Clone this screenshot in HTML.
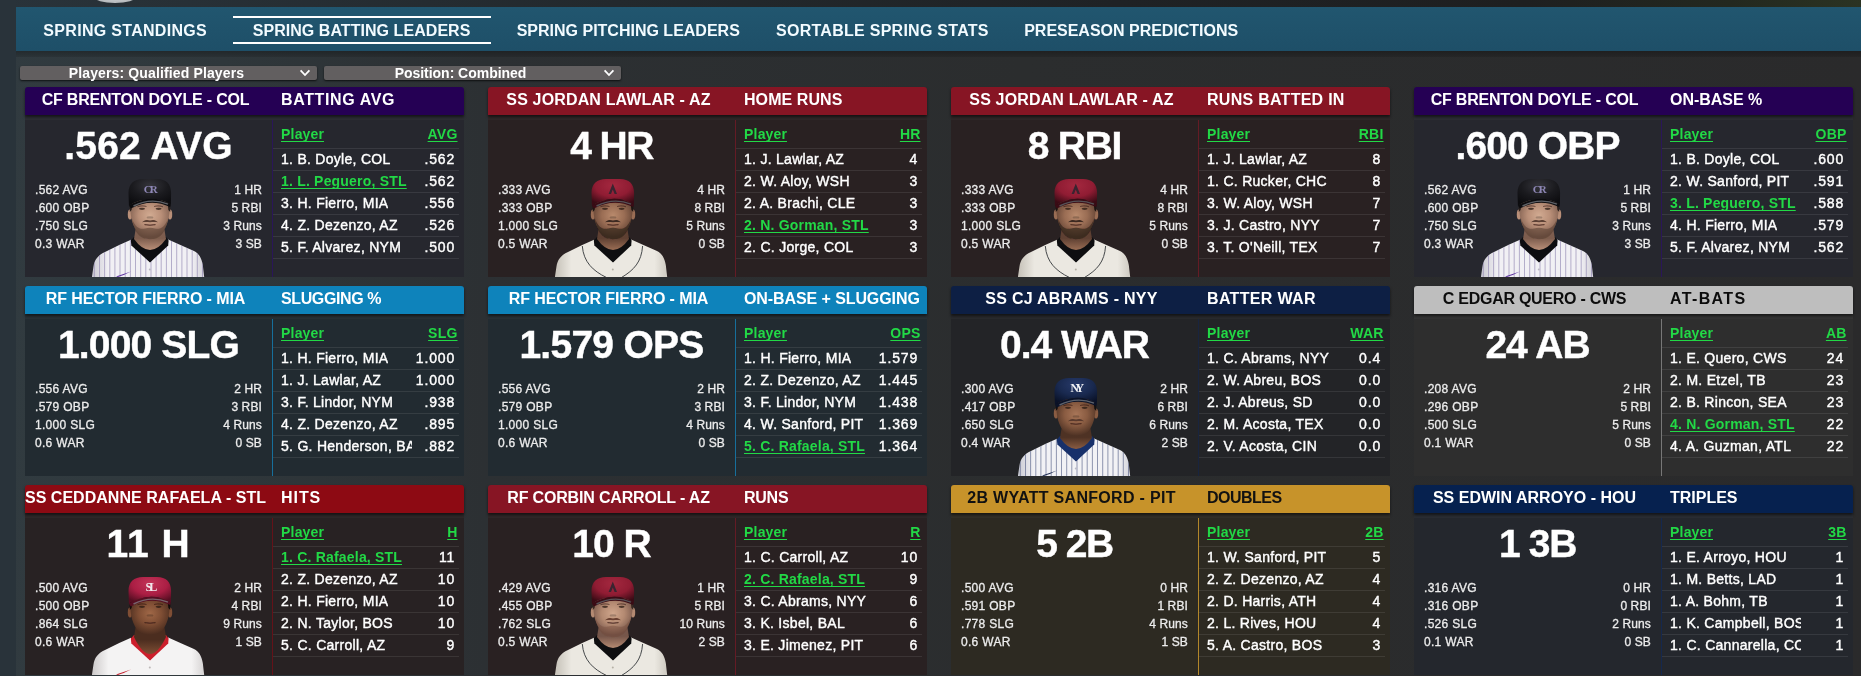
<!DOCTYPE html>
<html><head><meta charset="utf-8"><title>Spring Batting Leaders</title>
<style>
*{margin:0;padding:0;box-sizing:border-box}
html,body{width:1861px;height:676px;overflow:hidden}
body{position:relative;font-family:"Liberation Sans",sans-serif;color:#fff;
 background:linear-gradient(90deg,#313b40 0,#2f373b 12%,#2c3033 26%,#2b2d2e 55%,#2a2a2b 100%)}
.navsh{position:absolute;left:16px;top:51px;width:1845px;height:6px;background:linear-gradient(180deg,rgba(0,0,0,.28),rgba(0,0,0,.12))}
.topstrip{position:absolute;left:0;top:0;width:1861px;height:7px;background:linear-gradient(90deg,#29333a 0,#23292d 33%,#1f2225 60%,#1e1f20 82%,#23281f 93%,#2b3322 100%)}
.leftstrip{position:absolute;left:0;top:0;width:16px;height:676px;background:#29333a}
.knob{position:absolute;left:94px;top:-10px;width:42px;height:12.5px;border-radius:50%;background:radial-gradient(ellipse at 50% 40%,#d4d8da,#a9adb0)}
.nav{will-change:transform;position:absolute;left:16px;top:7px;width:1845px;height:44px;background:linear-gradient(180deg,#21566f,#1e4f68)}
.nav span{position:absolute;top:15px;font-size:16px;font-weight:bold;line-height:18px;white-space:nowrap;color:#f2fbff}
.nav i{position:absolute;left:217px;width:258px;height:2px;background:#fff}
.dd{will-change:transform;position:absolute;top:66px;height:14px;background:#625f60;border-radius:2px;box-shadow:0 1px 2px rgba(0,0,0,.7);font-size:14px;font-weight:bold;line-height:14px;text-align:center;white-space:nowrap}
.dd svg{position:absolute;right:6px;top:3px}
.card{position:absolute;width:439px;height:200px;will-change:transform}
.hd{position:absolute;left:0;top:0;width:439px;height:28px;border-radius:3px 3px 0 0;box-shadow:0 2px 3px rgba(0,0,0,.55);font-size:16px;font-weight:bold;line-height:28px;white-space:nowrap;overflow:hidden}
.hd .nm{position:absolute;left:0;top:-1px;width:241px;text-align:center}
.hd .nm b{display:inline-block;margin:0 -40px}
.hd .tt{position:absolute;left:256px;top:-1px}
.gp{position:absolute;left:0;top:26px;width:439px;height:7px}
.gp:after{content:'';position:absolute;left:0;top:0;width:100%;height:100%;background:rgba(255,255,255,.03)}
.bd{position:absolute;left:0;top:33px;width:439px;height:157px;overflow:hidden}
.dv{position:absolute;left:247px;top:0;width:1px;height:100%}
.big{position:absolute;left:0;top:1px;-webkit-text-stroke:.4px;width:247px;text-align:center;font-size:39px;font-weight:bold;line-height:50px;white-space:nowrap}
.sl,.sr{position:absolute;top:61px;font-size:12px;line-height:18px;white-space:nowrap;color:#ececec;-webkit-text-stroke:.3px #ececec}
.sl{left:10px;text-align:left;letter-spacing:.3px}
.sr{right:202px;text-align:right;letter-spacing:.12px}
.tb{position:absolute;left:248px;top:0;width:186px}
.tr{position:relative;height:22px;border-bottom:1px solid rgba(255,255,255,.085);font-size:14px;letter-spacing:.28px;line-height:21px;white-space:nowrap;-webkit-text-stroke:.4px}
.tr.h{height:29px;line-height:28.6px;font-weight:bold;font-size:14px;letter-spacing:.2px;-webkit-text-stroke:0}
.tr span{position:absolute;left:8px;top:0;max-width:131px;overflow:hidden}
.tr em{position:absolute;right:3.9px;top:0;font-style:normal;letter-spacing:.85px}
.tr.h em{right:1.5px;letter-spacing:.2px}
.g{letter-spacing:.2px;color:#22d946;text-decoration:underline;text-decoration-skip-ink:none;text-decoration-thickness:1px;text-underline-offset:2px;font-weight:bold;-webkit-text-stroke:0}
.ph{position:absolute;left:54px;bottom:0}
</style></head><body>
<div class="navsh"></div><div class="topstrip"></div><div class="leftstrip"></div><div class="knob"></div>
<div class="nav">
<span style="left:27.3px;letter-spacing:0.31px">SPRING STANDINGS</span>
<i style="top:9px"></i><span style="left:236.7px;letter-spacing:0.052px">SPRING BATTING LEADERS</span><i style="top:35px"></i>
<span style="left:500.7px;letter-spacing:0.0px">SPRING PITCHING LEADERS</span>
<span style="left:760.0px;letter-spacing:0.27px">SORTABLE SPRING STATS</span>
<span style="left:1008.2px;letter-spacing:-0.012px">PRESEASON PREDICTIONS</span>
</div>
<div class="dd" style="left:20px;width:297px"><span style="position:relative;left:-12px;letter-spacing:0.132px">Players: Qualified Players</span><svg width="12" height="8" viewBox="0 0 12 8"><path d="M1.6 1.3 L6 6 L10.4 1.3" fill="none" stroke="#fff" stroke-width="1.8"/></svg></div>
<div class="dd" style="left:324px;width:297px"><span style="position:relative;left:-12px;letter-spacing:-0.032px">Position: Combined</span><svg width="12" height="8" viewBox="0 0 12 8"><path d="M1.6 1.3 L6 6 L10.4 1.3" fill="none" stroke="#fff" stroke-width="1.8"/></svg></div>
<div class="card" style="left:25px;top:87px">
<div class="gp" style="background:#26272e"></div><div class="hd" style="background:#250054;color:#fff"><div class="nm"><b style="letter-spacing:-0.202px">CF BRENTON DOYLE - COL</b></div><div class="tt" style="letter-spacing:0.625px">BATTING AVG</div></div>
<div class="bd" style="background:#26272e"><div class="dv" style="background:#2a1658"></div>
<div class="big" style="letter-spacing:0.186px">.562 AVG</div>
<div class="sl">.562 AVG<br>.600 OBP<br>.750 SLG<br>0.3 WAR</div><div class="sr">1 HR<br>5 RBI<br>3 Runs<br>3 SB</div>
<svg class="ph" style="left:60px;top:52px;position:absolute" width="130" height="105" viewBox="0 0 130 105"><defs><radialGradient id="fa" cx="50%" cy="42%" r="58%"><stop offset="0" stop-color="#d2ab92"/><stop offset=".5" stop-color="#b98f78"/><stop offset="1" stop-color="#7d5d4e"/></radialGradient><filter id="ba" x="-10%" y="-10%" width="120%" height="120%"><feGaussianBlur stdDeviation=".55"/></filter><radialGradient id="ca" cx="50%" cy="25%" r="75%"><stop offset="0" stop-color="#34343a"/><stop offset=".55" stop-color="#1a1a1e"/><stop offset="1" stop-color="#0c0c0f"/></radialGradient><linearGradient id="ja" x1="0" x2="1"><stop offset="0" stop-color="#b9b7c2"/><stop offset=".18" stop-color="#f1f0f4"/><stop offset=".82" stop-color="#f1f0f4"/><stop offset="1" stop-color="#b9b7c2"/></linearGradient><clipPath id="ka"><path d="M6.9 105 L8.4 95 C9.4 88 12.5 83.400 20 80 L34.2 72.9 L46 67.8 L65 90 L83.2 67.6 L96 73.300 L109 79 C114 81.6 116.6 86 117.8 93 L119.2 105 Z"/></clipPath></defs><g clip-path="url(#ka)"><rect x="0" y="60" width="130" height="50" fill="url(#ja)"/><path d="M9.3 60V106M14.5 60V106M19.6 60V106M24.8 60V106M29.9 60V106M35.0 60V106M40.2 60V106M45.4 60V106M50.5 60V106M55.7 60V106M60.8 60V106M66.0 60V106M71.1 60V106M76.2 60V106M81.4 60V106M86.5 60V106M91.7 60V106M96.9 60V106M102.0 60V106M107.2 60V106M112.3 60V106M117.5 60V106" stroke="#8a80ac" stroke-width=".6" fill="none"/><ellipse cx="65" cy="106" rx="3" ry="0"/></g><circle cx="64.8" cy="97.5" r="1" fill="#b9b7c2"/><path d="M31 104.6 C36 103 41 101.5 46 99.6 C41 102.3 36 104.2 33 105 Z" fill="#5b2fa0"/><path d="M45.8 68.6 L49 65 L81 65 L83.6 68.6 L83.2 73.5 L65 90.6 L46.4 73.5 Z" fill="#0d0d10"/><linearGradient id="na" x1="0" y1="0" x2="0" y2="1"><stop offset="0" stop-color="#7d5d4e"/><stop offset=".55" stop-color="#7d5d4e"/><stop offset="1" stop-color="#b98f78"/></linearGradient><path d="M51.5 52 L78.5 52 L81 67 Q65 89 49 67 Z" fill="url(#na)"/><ellipse cx="45" cy="42.6" rx="2.2" ry="5" fill="#b98f78"/><ellipse cx="85" cy="42.6" rx="2.2" ry="5" fill="#b98f78"/><path d="M45.8 28 L84.2 28 C85.4 41 84 51 78 59.5 C73 66.600 57 66.600 52 59.5 C46 51 44.6 41 45.8 28 Z" fill="url(#fa)"/><g filter="url(#ba)"><path d="M47 47 C49 58 53 64 58 66 C62 67.6 68 67.6 72 66 C77 64 81 58 83 47 C80 55 75 58 70 56.500 C67 55.5 63 55.5 60 56.5 C55 58 50 55 47 47 Z" fill="rgba(80,55,45,.5)"/><path d="M57 50.2 C60 47.4 63 47.6 65 48.6 C67 47.6 70 47.400 73 50.2 C70 49.600 67 50 65 50.2 C63 50 60 49.6 57 50.2 Z" fill="#5c4034"/><g fill="#2a1a14" opacity=".75"><ellipse cx="57" cy="36.8" rx="3" ry="1.1"/><ellipse cx="73.6" cy="36.8" rx="3" ry="1.1"/></g><g fill="#1a100c" opacity=".45"><path d="M52.5 34.2 Q57 32.4 61.5 34 L61.5 35 Q57 33.8 52.5 35.2 Z"/><path d="M69 34 Q73.5 32.400 78 34.2 L78 35.2 Q73.5 33.8 69 35 Z"/></g><ellipse cx="65" cy="45.4" rx="3.4" ry="1.2" fill="#000" opacity=".2"/><path d="M59.5 52.600 Q65 54.2 70.500 52.600 Q65 53.4 59.5 52.6 Z" stroke="#3a1c18" stroke-width=".9" fill="none" opacity=".6"/></g><path d="M44.6 30 L47.5 30 L46.6 38 L44.8 40 Z M85.4 30 L82.5 30 L83.4 38 L85.2 40 Z" fill="#2a201c"/><path d="M43.9 33.6 L43.5 21 C43.5 11.5 49 7 58 6.9 L72 6.9 C81 7 86.1 11.5 86.100 21 L85.9 32.6 Q66 20.5 43.9 33.600 Z" fill="url(#ca)"/><path d="M43.9 33.6 Q66 20.5 85.9 32.6 L85.2 35 Q66 25.600 45.8 36.4 Z" fill="#0c0c0f"/><path d="M48.5 34 Q66 25.2 83 32.2" stroke="#6d7075" stroke-width="1.4" fill="none" opacity=".85"/><text x="64.8" y="20.5" text-anchor="middle" font-family="Liberation Serif,serif" font-weight="bold" font-size="11" fill="#8d86b4" letter-spacing="-2">CR</text></svg>
<div class="tb"><div class="tr h"><span class="g">Player</span><em class="g">AVG</em></div><div class="tr"><span>1. B. Doyle, COL</span><em>.562</em></div><div class="tr"><span class="g">1. L. Peguero, STL</span><em>.562</em></div><div class="tr"><span>3. H. Fierro, MIA</span><em>.556</em></div><div class="tr"><span>4. Z. Dezenzo, AZ</span><em>.526</em></div><div class="tr"><span>5. F. Alvarez, NYM</span><em>.500</em></div></div>
</div></div>
<div class="card" style="left:488px;top:87px">
<div class="gp" style="background:#292122"></div><div class="hd" style="background:#871524;color:#fff"><div class="nm"><b style="letter-spacing:0.147px">SS JORDAN LAWLAR - AZ</b></div><div class="tt" style="letter-spacing:0.069px">HOME RUNS</div></div>
<div class="bd" style="background:#292122"><div class="dv" style="background:#641b25"></div>
<div class="big" style="letter-spacing:-1.567px">4 HR</div>
<div class="sl">.333 AVG<br>.333 OBP<br>1.000 SLG<br>0.5 WAR</div><div class="sr">4 HR<br>8 RBI<br>5 Runs<br>0 SB</div>
<svg class="ph" style="left:60px;top:52px;position:absolute" width="130" height="105" viewBox="0 0 130 105"><defs><radialGradient id="fb" cx="50%" cy="42%" r="58%"><stop offset="0" stop-color="#b98a6c"/><stop offset=".5" stop-color="#9a6d54"/><stop offset="1" stop-color="#5e4032"/></radialGradient><filter id="bb" x="-10%" y="-10%" width="120%" height="120%"><feGaussianBlur stdDeviation=".55"/></filter><radialGradient id="cb" cx="50%" cy="25%" r="75%"><stop offset="0" stop-color="#a4283f"/><stop offset=".55" stop-color="#901c33"/><stop offset="1" stop-color="#3a0b15"/></radialGradient><linearGradient id="jb" x1="0" x2="1"><stop offset="0" stop-color="#b5b0a6"/><stop offset=".18" stop-color="#ebe8e1"/><stop offset=".82" stop-color="#ebe8e1"/><stop offset="1" stop-color="#b5b0a6"/></linearGradient><clipPath id="kb"><path d="M6.9 105 L8.4 95 C9.4 88 12.5 83.400 20 80 L34.2 72.9 L46 67.8 L65 90 L83.2 67.6 L96 73.300 L109 79 C114 81.6 116.6 86 117.8 93 L119.2 105 Z"/></clipPath></defs><g clip-path="url(#kb)"><rect x="0" y="60" width="130" height="50" fill="url(#jb)"/><path d="M34.3 74 C35.5 90 45 99 58.5 105.5 M94.6 74 C93.5 90 86 98 73.5 105.5" stroke="#45484a" stroke-width="1" fill="none"/><ellipse cx="65" cy="106" rx="3" ry="0"/></g><circle cx="64.8" cy="97.5" r="1" fill="#b5b0a6"/><path d="M45.8 68.6 L49 65 L81 65 L83.6 68.6 L83.2 73.5 L65 90.6 L46.4 73.5 Z" fill="#0e0e10"/><linearGradient id="nb" x1="0" y1="0" x2="0" y2="1"><stop offset="0" stop-color="#5e4032"/><stop offset=".55" stop-color="#5e4032"/><stop offset="1" stop-color="#9a6d54"/></linearGradient><path d="M51.5 52 L78.5 52 L81 67 Q65 89 49 67 Z" fill="url(#nb)"/><ellipse cx="45" cy="42.6" rx="2.2" ry="5" fill="#9a6d54"/><ellipse cx="85" cy="42.6" rx="2.2" ry="5" fill="#9a6d54"/><path d="M45.8 28 L84.2 28 C85.4 41 84 51 78 59.5 C73 66.600 57 66.600 52 59.5 C46 51 44.6 41 45.8 28 Z" fill="url(#fb)"/><g filter="url(#bb)"><path d="M47 47 C49 58 53 64 58 66 C62 67.6 68 67.6 72 66 C77 64 81 58 83 47 C80 55 75 58 70 56.500 C67 55.5 63 55.5 60 56.5 C55 58 50 55 47 47 Z" fill="rgba(40,26,20,.6)"/><path d="M57 50.2 C60 47.4 63 47.6 65 48.6 C67 47.6 70 47.400 73 50.2 C70 49.600 67 50 65 50.2 C63 50 60 49.6 57 50.2 Z" fill="#3e2a22"/><g fill="#2a1a14" opacity=".75"><ellipse cx="57" cy="36.8" rx="3" ry="1.1"/><ellipse cx="73.6" cy="36.8" rx="3" ry="1.1"/></g><g fill="#1a100c" opacity=".45"><path d="M52.5 34.2 Q57 32.4 61.5 34 L61.5 35 Q57 33.8 52.5 35.2 Z"/><path d="M69 34 Q73.5 32.400 78 34.2 L78 35.2 Q73.5 33.8 69 35 Z"/></g><ellipse cx="65" cy="45.4" rx="3.4" ry="1.2" fill="#000" opacity=".2"/><path d="M59.5 52.600 Q65 54.2 70.500 52.600 Q65 53.4 59.5 52.6 Z" stroke="#3a1c18" stroke-width=".9" fill="none" opacity=".6"/></g><path d="M44.6 30 L47.5 30 L46.6 38 L44.8 40 Z M85.4 30 L82.5 30 L83.4 38 L85.2 40 Z" fill="#1d1512"/><path d="M43.9 33.6 L43.5 21 C43.5 11.5 49 7 58 6.9 L72 6.9 C81 7 86.1 11.5 86.100 21 L85.9 32.6 Q66 20.5 43.9 33.600 Z" fill="url(#cb)"/><path d="M43.9 33.6 Q66 20.5 85.9 32.6 L85.2 35 Q66 25.600 45.8 36.4 Z" fill="#3a0b15"/><path d="M48.5 34 Q66 25.2 83 32.2" stroke="#5a5f63" stroke-width="1.4" fill="none" opacity=".85"/><path d="M64.8 11.5 L60.6 22 L63 22 L64.8 17.5 L66.600 22 L69 22 Z" fill="#3a2430"/></svg>
<div class="tb"><div class="tr h"><span class="g">Player</span><em class="g">HR</em></div><div class="tr"><span>1. J. Lawlar, AZ</span><em>4</em></div><div class="tr"><span>2. W. Aloy, WSH</span><em>3</em></div><div class="tr"><span>2. A. Brachi, CLE</span><em>3</em></div><div class="tr"><span class="g">2. N. Gorman, STL</span><em>3</em></div><div class="tr"><span>2. C. Jorge, COL</span><em>3</em></div></div>
</div></div>
<div class="card" style="left:951px;top:87px">
<div class="gp" style="background:#292122"></div><div class="hd" style="background:#871524;color:#fff"><div class="nm"><b style="letter-spacing:0.147px">SS JORDAN LAWLAR - AZ</b></div><div class="tt" style="letter-spacing:0.269px">RUNS BATTED IN</div></div>
<div class="bd" style="background:#292122"><div class="dv" style="background:#641b25"></div>
<div class="big" style="letter-spacing:-1.25px">8 RBI</div>
<div class="sl">.333 AVG<br>.333 OBP<br>1.000 SLG<br>0.5 WAR</div><div class="sr">4 HR<br>8 RBI<br>5 Runs<br>0 SB</div>
<svg class="ph" style="left:60px;top:52px;position:absolute" width="130" height="105" viewBox="0 0 130 105"><defs><radialGradient id="fb" cx="50%" cy="42%" r="58%"><stop offset="0" stop-color="#b98a6c"/><stop offset=".5" stop-color="#9a6d54"/><stop offset="1" stop-color="#5e4032"/></radialGradient><filter id="bb" x="-10%" y="-10%" width="120%" height="120%"><feGaussianBlur stdDeviation=".55"/></filter><radialGradient id="cb" cx="50%" cy="25%" r="75%"><stop offset="0" stop-color="#a4283f"/><stop offset=".55" stop-color="#901c33"/><stop offset="1" stop-color="#3a0b15"/></radialGradient><linearGradient id="jb" x1="0" x2="1"><stop offset="0" stop-color="#b5b0a6"/><stop offset=".18" stop-color="#ebe8e1"/><stop offset=".82" stop-color="#ebe8e1"/><stop offset="1" stop-color="#b5b0a6"/></linearGradient><clipPath id="kb"><path d="M6.9 105 L8.4 95 C9.4 88 12.5 83.400 20 80 L34.2 72.9 L46 67.8 L65 90 L83.2 67.6 L96 73.300 L109 79 C114 81.6 116.6 86 117.8 93 L119.2 105 Z"/></clipPath></defs><g clip-path="url(#kb)"><rect x="0" y="60" width="130" height="50" fill="url(#jb)"/><path d="M34.3 74 C35.5 90 45 99 58.5 105.5 M94.6 74 C93.5 90 86 98 73.5 105.5" stroke="#45484a" stroke-width="1" fill="none"/><ellipse cx="65" cy="106" rx="3" ry="0"/></g><circle cx="64.8" cy="97.5" r="1" fill="#b5b0a6"/><path d="M45.8 68.6 L49 65 L81 65 L83.6 68.6 L83.2 73.5 L65 90.6 L46.4 73.5 Z" fill="#0e0e10"/><linearGradient id="nb" x1="0" y1="0" x2="0" y2="1"><stop offset="0" stop-color="#5e4032"/><stop offset=".55" stop-color="#5e4032"/><stop offset="1" stop-color="#9a6d54"/></linearGradient><path d="M51.5 52 L78.5 52 L81 67 Q65 89 49 67 Z" fill="url(#nb)"/><ellipse cx="45" cy="42.6" rx="2.2" ry="5" fill="#9a6d54"/><ellipse cx="85" cy="42.6" rx="2.2" ry="5" fill="#9a6d54"/><path d="M45.8 28 L84.2 28 C85.4 41 84 51 78 59.5 C73 66.600 57 66.600 52 59.5 C46 51 44.6 41 45.8 28 Z" fill="url(#fb)"/><g filter="url(#bb)"><path d="M47 47 C49 58 53 64 58 66 C62 67.6 68 67.6 72 66 C77 64 81 58 83 47 C80 55 75 58 70 56.500 C67 55.5 63 55.5 60 56.5 C55 58 50 55 47 47 Z" fill="rgba(40,26,20,.6)"/><path d="M57 50.2 C60 47.4 63 47.6 65 48.6 C67 47.6 70 47.400 73 50.2 C70 49.600 67 50 65 50.2 C63 50 60 49.6 57 50.2 Z" fill="#3e2a22"/><g fill="#2a1a14" opacity=".75"><ellipse cx="57" cy="36.8" rx="3" ry="1.1"/><ellipse cx="73.6" cy="36.8" rx="3" ry="1.1"/></g><g fill="#1a100c" opacity=".45"><path d="M52.5 34.2 Q57 32.4 61.5 34 L61.5 35 Q57 33.8 52.5 35.2 Z"/><path d="M69 34 Q73.5 32.400 78 34.2 L78 35.2 Q73.5 33.8 69 35 Z"/></g><ellipse cx="65" cy="45.4" rx="3.4" ry="1.2" fill="#000" opacity=".2"/><path d="M59.5 52.600 Q65 54.2 70.500 52.600 Q65 53.4 59.5 52.6 Z" stroke="#3a1c18" stroke-width=".9" fill="none" opacity=".6"/></g><path d="M44.6 30 L47.5 30 L46.6 38 L44.8 40 Z M85.4 30 L82.5 30 L83.4 38 L85.2 40 Z" fill="#1d1512"/><path d="M43.9 33.6 L43.5 21 C43.5 11.5 49 7 58 6.9 L72 6.9 C81 7 86.1 11.5 86.100 21 L85.9 32.6 Q66 20.5 43.9 33.600 Z" fill="url(#cb)"/><path d="M43.9 33.6 Q66 20.5 85.9 32.6 L85.2 35 Q66 25.600 45.8 36.4 Z" fill="#3a0b15"/><path d="M48.5 34 Q66 25.2 83 32.2" stroke="#5a5f63" stroke-width="1.4" fill="none" opacity=".85"/><path d="M64.8 11.5 L60.6 22 L63 22 L64.8 17.5 L66.600 22 L69 22 Z" fill="#3a2430"/></svg>
<div class="tb"><div class="tr h"><span class="g">Player</span><em class="g">RBI</em></div><div class="tr"><span>1. J. Lawlar, AZ</span><em>8</em></div><div class="tr"><span>1. C. Rucker, CHC</span><em>8</em></div><div class="tr"><span>3. W. Aloy, WSH</span><em>7</em></div><div class="tr"><span>3. J. Castro, NYY</span><em>7</em></div><div class="tr"><span>3. T. O'Neill, TEX</span><em>7</em></div></div>
</div></div>
<div class="card" style="left:1414px;top:87px">
<div class="gp" style="background:#26272e"></div><div class="hd" style="background:#250054;color:#fff"><div class="nm"><b style="letter-spacing:-0.202px">CF BRENTON DOYLE - COL</b></div><div class="tt" style="letter-spacing:-0.037px">ON-BASE %</div></div>
<div class="bd" style="background:#26272e"><div class="dv" style="background:#2a1658"></div>
<div class="big" style="letter-spacing:-0.9px">.600 OBP</div>
<div class="sl">.562 AVG<br>.600 OBP<br>.750 SLG<br>0.3 WAR</div><div class="sr">1 HR<br>5 RBI<br>3 Runs<br>3 SB</div>
<svg class="ph" style="left:60px;top:52px;position:absolute" width="130" height="105" viewBox="0 0 130 105"><defs><radialGradient id="fa" cx="50%" cy="42%" r="58%"><stop offset="0" stop-color="#d2ab92"/><stop offset=".5" stop-color="#b98f78"/><stop offset="1" stop-color="#7d5d4e"/></radialGradient><filter id="ba" x="-10%" y="-10%" width="120%" height="120%"><feGaussianBlur stdDeviation=".55"/></filter><radialGradient id="ca" cx="50%" cy="25%" r="75%"><stop offset="0" stop-color="#34343a"/><stop offset=".55" stop-color="#1a1a1e"/><stop offset="1" stop-color="#0c0c0f"/></radialGradient><linearGradient id="ja" x1="0" x2="1"><stop offset="0" stop-color="#b9b7c2"/><stop offset=".18" stop-color="#f1f0f4"/><stop offset=".82" stop-color="#f1f0f4"/><stop offset="1" stop-color="#b9b7c2"/></linearGradient><clipPath id="ka"><path d="M6.9 105 L8.4 95 C9.4 88 12.5 83.400 20 80 L34.2 72.9 L46 67.8 L65 90 L83.2 67.6 L96 73.300 L109 79 C114 81.6 116.6 86 117.8 93 L119.2 105 Z"/></clipPath></defs><g clip-path="url(#ka)"><rect x="0" y="60" width="130" height="50" fill="url(#ja)"/><path d="M9.3 60V106M14.5 60V106M19.6 60V106M24.8 60V106M29.9 60V106M35.0 60V106M40.2 60V106M45.4 60V106M50.5 60V106M55.7 60V106M60.8 60V106M66.0 60V106M71.1 60V106M76.2 60V106M81.4 60V106M86.5 60V106M91.7 60V106M96.9 60V106M102.0 60V106M107.2 60V106M112.3 60V106M117.5 60V106" stroke="#8a80ac" stroke-width=".6" fill="none"/><ellipse cx="65" cy="106" rx="3" ry="0"/></g><circle cx="64.8" cy="97.5" r="1" fill="#b9b7c2"/><path d="M31 104.6 C36 103 41 101.5 46 99.6 C41 102.3 36 104.2 33 105 Z" fill="#5b2fa0"/><path d="M45.8 68.6 L49 65 L81 65 L83.6 68.6 L83.2 73.5 L65 90.6 L46.4 73.5 Z" fill="#0d0d10"/><linearGradient id="na" x1="0" y1="0" x2="0" y2="1"><stop offset="0" stop-color="#7d5d4e"/><stop offset=".55" stop-color="#7d5d4e"/><stop offset="1" stop-color="#b98f78"/></linearGradient><path d="M51.5 52 L78.5 52 L81 67 Q65 89 49 67 Z" fill="url(#na)"/><ellipse cx="45" cy="42.6" rx="2.2" ry="5" fill="#b98f78"/><ellipse cx="85" cy="42.6" rx="2.2" ry="5" fill="#b98f78"/><path d="M45.8 28 L84.2 28 C85.4 41 84 51 78 59.5 C73 66.600 57 66.600 52 59.5 C46 51 44.6 41 45.8 28 Z" fill="url(#fa)"/><g filter="url(#ba)"><path d="M47 47 C49 58 53 64 58 66 C62 67.6 68 67.6 72 66 C77 64 81 58 83 47 C80 55 75 58 70 56.500 C67 55.5 63 55.5 60 56.5 C55 58 50 55 47 47 Z" fill="rgba(80,55,45,.5)"/><path d="M57 50.2 C60 47.4 63 47.6 65 48.6 C67 47.6 70 47.400 73 50.2 C70 49.600 67 50 65 50.2 C63 50 60 49.6 57 50.2 Z" fill="#5c4034"/><g fill="#2a1a14" opacity=".75"><ellipse cx="57" cy="36.8" rx="3" ry="1.1"/><ellipse cx="73.6" cy="36.8" rx="3" ry="1.1"/></g><g fill="#1a100c" opacity=".45"><path d="M52.5 34.2 Q57 32.4 61.5 34 L61.5 35 Q57 33.8 52.5 35.2 Z"/><path d="M69 34 Q73.5 32.400 78 34.2 L78 35.2 Q73.5 33.8 69 35 Z"/></g><ellipse cx="65" cy="45.4" rx="3.4" ry="1.2" fill="#000" opacity=".2"/><path d="M59.5 52.600 Q65 54.2 70.500 52.600 Q65 53.4 59.5 52.6 Z" stroke="#3a1c18" stroke-width=".9" fill="none" opacity=".6"/></g><path d="M44.6 30 L47.5 30 L46.6 38 L44.8 40 Z M85.4 30 L82.5 30 L83.4 38 L85.2 40 Z" fill="#2a201c"/><path d="M43.9 33.6 L43.5 21 C43.5 11.5 49 7 58 6.9 L72 6.9 C81 7 86.1 11.5 86.100 21 L85.9 32.6 Q66 20.5 43.9 33.600 Z" fill="url(#ca)"/><path d="M43.9 33.6 Q66 20.5 85.9 32.6 L85.2 35 Q66 25.600 45.8 36.4 Z" fill="#0c0c0f"/><path d="M48.5 34 Q66 25.2 83 32.2" stroke="#6d7075" stroke-width="1.4" fill="none" opacity=".85"/><text x="64.8" y="20.5" text-anchor="middle" font-family="Liberation Serif,serif" font-weight="bold" font-size="11" fill="#8d86b4" letter-spacing="-2">CR</text></svg>
<div class="tb"><div class="tr h"><span class="g">Player</span><em class="g">OBP</em></div><div class="tr"><span>1. B. Doyle, COL</span><em>.600</em></div><div class="tr"><span>2. W. Sanford, PIT</span><em>.591</em></div><div class="tr"><span class="g">3. L. Peguero, STL</span><em>.588</em></div><div class="tr"><span>4. H. Fierro, MIA</span><em>.579</em></div><div class="tr"><span>5. F. Alvarez, NYM</span><em>.562</em></div></div>
</div></div>
<div class="card" style="left:25px;top:286px">
<div class="gp" style="background:#222b31"></div><div class="hd" style="background:#0e83bb;color:#fff"><div class="nm"><b style="letter-spacing:-0.086px">RF HECTOR FIERRO - MIA</b></div><div class="tt" style="letter-spacing:-0.383px">SLUGGING %</div></div>
<div class="bd" style="background:#222b31"><div class="dv" style="background:#176f9b"></div>
<div class="big" style="letter-spacing:-0.844px">1.000 SLG</div>
<div class="sl">.556 AVG<br>.579 OBP<br>1.000 SLG<br>0.6 WAR</div><div class="sr">2 HR<br>3 RBI<br>4 Runs<br>0 SB</div>
<div class="tb"><div class="tr h"><span class="g">Player</span><em class="g">SLG</em></div><div class="tr"><span>1. H. Fierro, MIA</span><em>1.000</em></div><div class="tr"><span>1. J. Lawlar, AZ</span><em>1.000</em></div><div class="tr"><span>3. F. Lindor, NYM</span><em>.938</em></div><div class="tr"><span>4. Z. Dezenzo, AZ</span><em>.895</em></div><div class="tr"><span>5. G. Henderson, BAL</span><em>.882</em></div></div>
</div></div>
<div class="card" style="left:488px;top:286px">
<div class="gp" style="background:#222b31"></div><div class="hd" style="background:#0e83bb;color:#fff"><div class="nm"><b style="letter-spacing:-0.086px">RF HECTOR FIERRO - MIA</b></div><div class="tt" style="letter-spacing:-0.088px">ON-BASE + SLUGGING</div></div>
<div class="bd" style="background:#222b31"><div class="dv" style="background:#176f9b"></div>
<div class="big" style="letter-spacing:-0.731px">1.579 OPS</div>
<div class="sl">.556 AVG<br>.579 OBP<br>1.000 SLG<br>0.6 WAR</div><div class="sr">2 HR<br>3 RBI<br>4 Runs<br>0 SB</div>
<div class="tb"><div class="tr h"><span class="g">Player</span><em class="g">OPS</em></div><div class="tr"><span>1. H. Fierro, MIA</span><em>1.579</em></div><div class="tr"><span>2. Z. Dezenzo, AZ</span><em>1.445</em></div><div class="tr"><span>3. F. Lindor, NYM</span><em>1.438</em></div><div class="tr"><span>4. W. Sanford, PIT</span><em>1.369</em></div><div class="tr"><span class="g">5. C. Rafaela, STL</span><em>1.364</em></div></div>
</div></div>
<div class="card" style="left:951px;top:286px">
<div class="gp" style="background:#232427"></div><div class="hd" style="background:#0d1f44;color:#fff"><div class="nm"><b style="letter-spacing:0.279px">SS CJ ABRAMS - NYY</b></div><div class="tt" style="letter-spacing:0.339px">BATTER WAR</div></div>
<div class="bd" style="background:#232427"><div class="dv" style="background:#18243f"></div>
<div class="big" style="letter-spacing:-0.992px">0.4 WAR</div>
<div class="sl">.300 AVG<br>.417 OBP<br>.650 SLG<br>0.4 WAR</div><div class="sr">2 HR<br>6 RBI<br>6 Runs<br>2 SB</div>
<svg class="ph" style="left:60px;top:52px;position:absolute" width="130" height="105" viewBox="0 0 130 105"><defs><radialGradient id="fd" cx="50%" cy="42%" r="58%"><stop offset="0" stop-color="#a87658"/><stop offset=".5" stop-color="#8a5c42"/><stop offset="1" stop-color="#4e3224"/></radialGradient><filter id="bd" x="-10%" y="-10%" width="120%" height="120%"><feGaussianBlur stdDeviation=".55"/></filter><radialGradient id="cd" cx="50%" cy="25%" r="75%"><stop offset="0" stop-color="#273a6a"/><stop offset=".55" stop-color="#19294f"/><stop offset="1" stop-color="#0a1228"/></radialGradient><linearGradient id="jd" x1="0" x2="1"><stop offset="0" stop-color="#b8b9c4"/><stop offset=".18" stop-color="#f2f2f5"/><stop offset=".82" stop-color="#f2f2f5"/><stop offset="1" stop-color="#b8b9c4"/></linearGradient><clipPath id="kd"><path d="M6.9 105 L8.4 95 C9.4 88 12.5 83.400 20 80 L34.2 72.9 L46 67.8 L65 90 L83.2 67.6 L96 73.300 L109 79 C114 81.6 116.6 86 117.8 93 L119.2 105 Z"/></clipPath></defs><g clip-path="url(#kd)"><rect x="0" y="60" width="130" height="50" fill="url(#jd)"/><path d="M9.3 60V106M14.5 60V106M19.6 60V106M24.8 60V106M29.9 60V106M35.0 60V106M40.2 60V106M45.4 60V106M50.5 60V106M55.7 60V106M60.8 60V106M66.0 60V106M71.1 60V106M76.2 60V106M81.4 60V106M86.5 60V106M91.7 60V106M96.9 60V106M102.0 60V106M107.2 60V106M112.3 60V106M117.5 60V106" stroke="#4a5680" stroke-width=".6" fill="none"/><ellipse cx="65" cy="106" rx="3" ry="0"/></g><circle cx="64.8" cy="97.5" r="1" fill="#b8b9c4"/><path d="M31 104.6 C36 103 41 101.5 46 99.6 C41 102.3 36 104.2 33 105 Z" fill="#1c2a50"/><path d="M45.8 68.6 L49 65 L81 65 L83.6 68.6 L83.2 73.5 L65 90.6 L46.4 73.5 Z" fill="#17306a"/><linearGradient id="nd" x1="0" y1="0" x2="0" y2="1"><stop offset="0" stop-color="#4e3224"/><stop offset=".55" stop-color="#4e3224"/><stop offset="1" stop-color="#8a5c42"/></linearGradient><path d="M51.5 52 L78.5 52 L81 67 Q65 89 49 67 Z" fill="url(#nd)"/><ellipse cx="45" cy="42.6" rx="2.2" ry="5" fill="#8a5c42"/><ellipse cx="85" cy="42.6" rx="2.2" ry="5" fill="#8a5c42"/><path d="M45.8 28 L84.2 28 C85.4 41 84 51 78 59.5 C73 66.600 57 66.600 52 59.5 C46 51 44.6 41 45.8 28 Z" fill="url(#fd)"/><g filter="url(#bd)"><path d="M57 50.2 C60 47.4 63 47.6 65 48.6 C67 47.6 70 47.400 73 50.2 C70 49.600 67 50 65 50.2 C63 50 60 49.6 57 50.2 Z" fill="rgba(40,24,18,.55)"/><g fill="#2a1a14" opacity=".75"><ellipse cx="57" cy="36.8" rx="3" ry="1.1"/><ellipse cx="73.6" cy="36.8" rx="3" ry="1.1"/></g><g fill="#1a100c" opacity=".45"><path d="M52.5 34.2 Q57 32.4 61.5 34 L61.5 35 Q57 33.8 52.5 35.2 Z"/><path d="M69 34 Q73.5 32.400 78 34.2 L78 35.2 Q73.5 33.8 69 35 Z"/></g><ellipse cx="65" cy="45.4" rx="3.4" ry="1.2" fill="#000" opacity=".2"/><path d="M59.5 52.600 Q65 54.2 70.500 52.600 Q65 53.4 59.5 52.6 Z" stroke="#3a1c18" stroke-width=".9" fill="none" opacity=".6"/></g><path d="M44.6 30 L47.5 30 L46.6 38 L44.8 40 Z M85.4 30 L82.5 30 L83.4 38 L85.2 40 Z" fill="#141010"/><path d="M43.9 33.6 L43.5 21 C43.5 11.5 49 7 58 6.9 L72 6.9 C81 7 86.1 11.5 86.100 21 L85.9 32.6 Q66 20.5 43.9 33.600 Z" fill="url(#cd)"/><path d="M43.9 33.6 Q66 20.5 85.9 32.6 L85.2 35 Q66 25.600 45.8 36.4 Z" fill="#0a1228"/><path d="M48.5 34 Q66 25.2 83 32.2" stroke="#6b7078" stroke-width="1.4" fill="none" opacity=".85"/><text x="64.8" y="20.5" text-anchor="middle" font-family="Liberation Serif,serif" font-weight="bold" font-size="11.5" fill="#f4f4f6" letter-spacing="-3">NY</text></svg>
<div class="tb"><div class="tr h"><span class="g">Player</span><em class="g">WAR</em></div><div class="tr"><span>1. C. Abrams, NYY</span><em>0.4</em></div><div class="tr"><span>2. W. Abreu, BOS</span><em>0.0</em></div><div class="tr"><span>2. J. Abreus, SD</span><em>0.0</em></div><div class="tr"><span>2. M. Acosta, TEX</span><em>0.0</em></div><div class="tr"><span>2. V. Acosta, CIN</span><em>0.0</em></div></div>
</div></div>
<div class="card" style="left:1414px;top:286px">
<div class="gp" style="background:#2e2e2e"></div><div class="hd" style="background:#bebebe;color:#0c0c0c"><div class="nm"><b style="letter-spacing:-0.269px">C EDGAR QUERO - CWS</b></div><div class="tt" style="letter-spacing:1.367px">AT-BATS</div></div>
<div class="bd" style="background:#2e2e2e"><div class="dv" style="background:#777"></div>
<div class="big" style="letter-spacing:-0.988px">24 AB</div>
<div class="sl">.208 AVG<br>.296 OBP<br>.500 SLG<br>0.1 WAR</div><div class="sr">2 HR<br>5 RBI<br>5 Runs<br>0 SB</div>
<div class="tb"><div class="tr h"><span class="g">Player</span><em class="g">AB</em></div><div class="tr"><span>1. E. Quero, CWS</span><em>24</em></div><div class="tr"><span>2. M. Etzel, TB</span><em>23</em></div><div class="tr"><span>2. B. Rincon, SEA</span><em>23</em></div><div class="tr"><span class="g">4. N. Gorman, STL</span><em>22</em></div><div class="tr"><span>4. A. Guzman, ATL</span><em>22</em></div></div>
</div></div>
<div class="card" style="left:25px;top:485px">
<div class="gp" style="background:#282223"></div><div class="hd" style="background:#8d0a13;color:#fff"><div class="nm"><b style="letter-spacing:0.033px">SS CEDDANNE RAFAELA - STL</b></div><div class="tt" style="letter-spacing:0.95px">HITS</div></div>
<div class="bd" style="background:#282223"><div class="dv" style="background:#641219"></div>
<div class="big" style="letter-spacing:0.95px">11 H</div>
<div class="sl">.500 AVG<br>.500 OBP<br>.864 SLG<br>0.6 WAR</div><div class="sr">2 HR<br>4 RBI<br>9 Runs<br>1 SB</div>
<svg class="ph" style="left:60px;top:52px;position:absolute" width="130" height="105" viewBox="0 0 130 105"><defs><radialGradient id="fe" cx="50%" cy="42%" r="58%"><stop offset="0" stop-color="#a06847"/><stop offset=".5" stop-color="#7f4e34"/><stop offset="1" stop-color="#4b2d1f"/></radialGradient><filter id="be" x="-10%" y="-10%" width="120%" height="120%"><feGaussianBlur stdDeviation=".55"/></filter><radialGradient id="ce" cx="50%" cy="25%" r="75%"><stop offset="0" stop-color="#c23458"/><stop offset=".55" stop-color="#ab1e44"/><stop offset="1" stop-color="#560e22"/></radialGradient><linearGradient id="je" x1="0" x2="1"><stop offset="0" stop-color="#bcb8b8"/><stop offset=".18" stop-color="#f4f3f3"/><stop offset=".82" stop-color="#f4f3f3"/><stop offset="1" stop-color="#bcb8b8"/></linearGradient><clipPath id="ke"><path d="M6.9 105 L8.4 95 C9.4 88 12.5 83.400 20 80 L34.2 72.9 L46 67.8 L65 90 L83.2 67.6 L96 73.300 L109 79 C114 81.6 116.6 86 117.8 93 L119.2 105 Z"/></clipPath></defs><g clip-path="url(#ke)"><rect x="0" y="60" width="130" height="50" fill="url(#je)"/><ellipse cx="65" cy="106" rx="3" ry="0"/></g><circle cx="64.8" cy="97.5" r="1" fill="#bcb8b8"/><path d="M31 104.6 C36 103 41 101.5 46 99.6 C41 102.3 36 104.2 33 105 Z" fill="#c4202e"/><path d="M45.8 68.6 L49 65 L81 65 L83.6 68.6 L83.2 73.5 L65 90.6 L46.4 73.5 Z" fill="#cc1f2c"/><linearGradient id="ne" x1="0" y1="0" x2="0" y2="1"><stop offset="0" stop-color="#4b2d1f"/><stop offset=".55" stop-color="#4b2d1f"/><stop offset="1" stop-color="#7f4e34"/></linearGradient><path d="M51.5 52 L78.5 52 L81 67 Q65 101 49 67 Z" fill="url(#ne)"/><ellipse cx="45" cy="42.6" rx="2.2" ry="5" fill="#7f4e34"/><ellipse cx="85" cy="42.6" rx="2.2" ry="5" fill="#7f4e34"/><path d="M45.8 28 L84.2 28 C85.4 41 84 51 78 59.5 C73 66.600 57 66.600 52 59.5 C46 51 44.6 41 45.8 28 Z" fill="url(#fe)"/><g filter="url(#be)"><g fill="#2a1a14" opacity=".75"><ellipse cx="57" cy="36.8" rx="3" ry="1.1"/><ellipse cx="73.6" cy="36.8" rx="3" ry="1.1"/></g><g fill="#1a100c" opacity=".45"><path d="M52.5 34.2 Q57 32.4 61.5 34 L61.5 35 Q57 33.8 52.5 35.2 Z"/><path d="M69 34 Q73.5 32.400 78 34.2 L78 35.2 Q73.5 33.8 69 35 Z"/></g><ellipse cx="65" cy="45.4" rx="3.4" ry="1.2" fill="#000" opacity=".2"/><path d="M59.5 52.600 Q65 54.2 70.500 52.600 Q65 53.4 59.5 52.6 Z" stroke="#3a1c18" stroke-width=".9" fill="none" opacity=".6"/></g><path d="M44.6 30 L47.5 30 L46.6 38 L44.8 40 Z M85.4 30 L82.5 30 L83.4 38 L85.2 40 Z" fill="#120d0a"/><path d="M43.9 33.6 L43.5 21 C43.5 11.5 49 7 58 6.9 L72 6.9 C81 7 86.1 11.5 86.100 21 L85.9 32.6 Q66 20.5 43.9 33.600 Z" fill="url(#ce)"/><path d="M43.9 33.6 Q66 20.5 85.9 32.6 L85.2 35 Q66 25.600 45.8 36.4 Z" fill="#560e22"/><path d="M48.5 34 Q66 25.2 83 32.2" stroke="#7d7378" stroke-width="1.4" fill="none" opacity=".85"/><text x="64.8" y="21" text-anchor="middle" font-family="Liberation Serif,serif" font-weight="bold" font-size="12" fill="#f1e8ec" letter-spacing="-3">SL</text></svg>
<div class="tb"><div class="tr h"><span class="g">Player</span><em class="g">H</em></div><div class="tr"><span class="g">1. C. Rafaela, STL</span><em>11</em></div><div class="tr"><span>2. Z. Dezenzo, AZ</span><em>10</em></div><div class="tr"><span>2. H. Fierro, MIA</span><em>10</em></div><div class="tr"><span>2. N. Taylor, BOS</span><em>10</em></div><div class="tr"><span>5. C. Carroll, AZ</span><em>9</em></div></div>
</div></div>
<div class="card" style="left:488px;top:485px">
<div class="gp" style="background:#292122"></div><div class="hd" style="background:#871524;color:#fff"><div class="nm"><b style="letter-spacing:-0.169px">RF CORBIN CARROLL - AZ</b></div><div class="tt" style="letter-spacing:-0.25px">RUNS</div></div>
<div class="bd" style="background:#292122"><div class="dv" style="background:#641b25"></div>
<div class="big" style="letter-spacing:-0.967px">10 R</div>
<div class="sl">.429 AVG<br>.455 OBP<br>.762 SLG<br>0.5 WAR</div><div class="sr">1 HR<br>5 RBI<br>10 Runs<br>2 SB</div>
<svg class="ph" style="left:60px;top:52px;position:absolute" width="130" height="105" viewBox="0 0 130 105"><defs><radialGradient id="fc" cx="50%" cy="42%" r="58%"><stop offset="0" stop-color="#d0a68c"/><stop offset=".5" stop-color="#b48a72"/><stop offset="1" stop-color="#76564a"/></radialGradient><filter id="bc" x="-10%" y="-10%" width="120%" height="120%"><feGaussianBlur stdDeviation=".55"/></filter><radialGradient id="cc" cx="50%" cy="25%" r="75%"><stop offset="0" stop-color="#a4283f"/><stop offset=".55" stop-color="#901c33"/><stop offset="1" stop-color="#3a0b15"/></radialGradient><linearGradient id="jc" x1="0" x2="1"><stop offset="0" stop-color="#b5b0a6"/><stop offset=".18" stop-color="#ebe8e1"/><stop offset=".82" stop-color="#ebe8e1"/><stop offset="1" stop-color="#b5b0a6"/></linearGradient><clipPath id="kc"><path d="M6.9 105 L8.4 95 C9.4 88 12.5 83.400 20 80 L34.2 72.9 L46 67.8 L65 90 L83.2 67.6 L96 73.300 L109 79 C114 81.6 116.6 86 117.8 93 L119.2 105 Z"/></clipPath></defs><g clip-path="url(#kc)"><rect x="0" y="60" width="130" height="50" fill="url(#jc)"/><path d="M34.3 74 C35.5 90 45 99 58.5 105.5 M94.6 74 C93.5 90 86 98 73.5 105.5" stroke="#45484a" stroke-width="1" fill="none"/><ellipse cx="65" cy="106" rx="3" ry="0"/></g><circle cx="64.8" cy="97.5" r="1" fill="#b5b0a6"/><path d="M45.8 68.6 L49 65 L81 65 L83.6 68.6 L83.2 73.5 L65 90.6 L46.4 73.5 Z" fill="#0e0e10"/><linearGradient id="nc" x1="0" y1="0" x2="0" y2="1"><stop offset="0" stop-color="#76564a"/><stop offset=".55" stop-color="#76564a"/><stop offset="1" stop-color="#b48a72"/></linearGradient><path d="M51.5 52 L78.5 52 L81 67 Q65 89 49 67 Z" fill="url(#nc)"/><ellipse cx="45" cy="42.6" rx="2.2" ry="5" fill="#b48a72"/><ellipse cx="85" cy="42.6" rx="2.2" ry="5" fill="#b48a72"/><path d="M45.8 28 L84.2 28 C85.4 41 84 51 78 59.5 C73 66.600 57 66.600 52 59.5 C46 51 44.6 41 45.8 28 Z" fill="url(#fc)"/><g filter="url(#bc)"><path d="M47 47 C49 58 53 64 58 66 C62 67.6 68 67.6 72 66 C77 64 81 58 83 47 C80 55 75 58 70 56.500 C67 55.5 63 55.5 60 56.5 C55 58 50 55 47 47 Z" fill="rgba(110,70,55,.35)"/><path d="M57 50.2 C60 47.4 63 47.6 65 48.6 C67 47.6 70 47.400 73 50.2 C70 49.600 67 50 65 50.2 C63 50 60 49.6 57 50.2 Z" fill="#6a4030"/><g fill="#2a1a14" opacity=".75"><ellipse cx="57" cy="36.8" rx="3" ry="1.1"/><ellipse cx="73.6" cy="36.8" rx="3" ry="1.1"/></g><g fill="#1a100c" opacity=".45"><path d="M52.5 34.2 Q57 32.4 61.5 34 L61.5 35 Q57 33.8 52.5 35.2 Z"/><path d="M69 34 Q73.5 32.400 78 34.2 L78 35.2 Q73.5 33.8 69 35 Z"/></g><ellipse cx="65" cy="45.4" rx="3.4" ry="1.2" fill="#000" opacity=".2"/><path d="M59.5 52.600 Q65 54.2 70.500 52.600 Q65 53.4 59.5 52.6 Z" stroke="#3a1c18" stroke-width=".9" fill="none" opacity=".6"/></g><path d="M44.6 30 L47.5 30 L46.6 38 L44.8 40 Z M85.4 30 L82.5 30 L83.4 38 L85.2 40 Z" fill="#3a2a22"/><path d="M43.9 33.6 L43.5 21 C43.5 11.5 49 7 58 6.9 L72 6.9 C81 7 86.1 11.5 86.100 21 L85.9 32.6 Q66 20.5 43.9 33.600 Z" fill="url(#cc)"/><path d="M43.9 33.6 Q66 20.5 85.9 32.6 L85.2 35 Q66 25.600 45.8 36.4 Z" fill="#3a0b15"/><path d="M48.5 34 Q66 25.2 83 32.2" stroke="#5a5f63" stroke-width="1.4" fill="none" opacity=".85"/><path d="M64.8 11.5 L60.6 22 L63 22 L64.8 17.5 L66.600 22 L69 22 Z" fill="#3a2430"/></svg>
<div class="tb"><div class="tr h"><span class="g">Player</span><em class="g">R</em></div><div class="tr"><span>1. C. Carroll, AZ</span><em>10</em></div><div class="tr"><span class="g">2. C. Rafaela, STL</span><em>9</em></div><div class="tr"><span>3. C. Abrams, NYY</span><em>6</em></div><div class="tr"><span>3. K. Isbel, BAL</span><em>6</em></div><div class="tr"><span>3. E. Jimenez, PIT</span><em>6</em></div></div>
</div></div>
<div class="card" style="left:951px;top:485px">
<div class="gp" style="background:#2d2a22"></div><div class="hd" style="background:#c7932a;color:#111"><div class="nm"><b style="letter-spacing:0.302px">2B WYATT SANFORD - PIT</b></div><div class="tt" style="letter-spacing:-0.508px">DOUBLES</div></div>
<div class="bd" style="background:#2d2a22"><div class="dv" style="background:#b3872a"></div>
<div class="big" style="letter-spacing:-1.467px">5 2B</div>
<div class="sl">.500 AVG<br>.591 OBP<br>.778 SLG<br>0.6 WAR</div><div class="sr">0 HR<br>1 RBI<br>4 Runs<br>1 SB</div>
<div class="tb"><div class="tr h"><span class="g">Player</span><em class="g">2B</em></div><div class="tr"><span>1. W. Sanford, PIT</span><em>5</em></div><div class="tr"><span>2. Z. Dezenzo, AZ</span><em>4</em></div><div class="tr"><span>2. D. Harris, ATH</span><em>4</em></div><div class="tr"><span>2. L. Rives, HOU</span><em>4</em></div><div class="tr"><span>5. A. Castro, BOS</span><em>3</em></div></div>
</div></div>
<div class="card" style="left:1414px;top:485px">
<div class="gp" style="background:#24272d"></div><div class="hd" style="background:#06214f;color:#fff"><div class="nm"><b style="letter-spacing:0.01px">SS EDWIN ARROYO - HOU</b></div><div class="tt" style="letter-spacing:-0.008px">TRIPLES</div></div>
<div class="bd" style="background:#24272d"><div class="dv" style="background:#15284e"></div>
<div class="big" style="letter-spacing:-1.35px">1 3B</div>
<div class="sl">.316 AVG<br>.316 OBP<br>.526 SLG<br>0.1 WAR</div><div class="sr">0 HR<br>0 RBI<br>2 Runs<br>0 SB</div>
<div class="tb"><div class="tr h"><span class="g">Player</span><em class="g">3B</em></div><div class="tr"><span>1. E. Arroyo, HOU</span><em>1</em></div><div class="tr"><span>1. M. Betts, LAD</span><em>1</em></div><div class="tr"><span>1. A. Bohm, TB</span><em>1</em></div><div class="tr"><span>1. K. Campbell, BOS</span><em>1</em></div><div class="tr"><span>1. C. Cannarella, CO</span><em>1</em></div></div>
</div></div>
</body></html>
